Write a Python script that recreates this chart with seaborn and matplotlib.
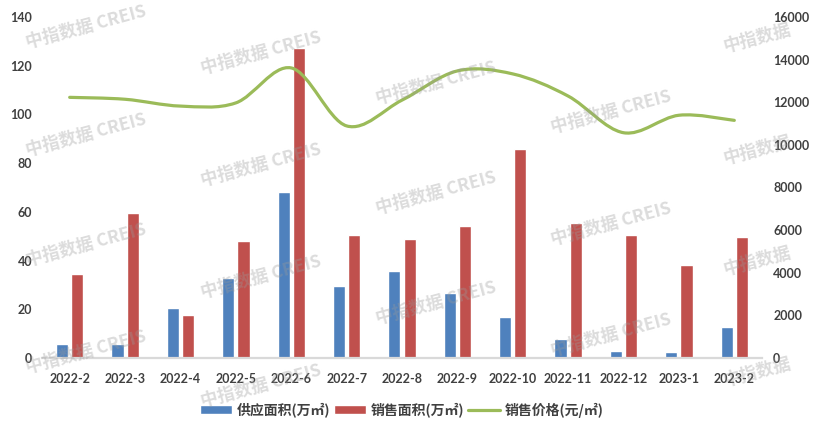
import numpy as np
import pandas as pd
import matplotlib
matplotlib.use("Agg")
import matplotlib.pyplot as plt
from matplotlib import font_manager
import seaborn as sns
from matplotlib.path import Path
from matplotlib.patches import PathPatch, Patch
from matplotlib.lines import Line2D

# ---- data ----
months = ["2022-2", "2022-3", "2022-4", "2022-5", "2022-6", "2022-7", "2022-8",
          "2022-9", "2022-10", "2022-11", "2022-12", "2023-1", "2023-2"]
supply = [5.8, 5.8, 20.6, 32.9, 68.3, 29.6, 35.8, 26.7, 16.9, 7.8, 2.9, 2.5, 12.8]
sales = [34.6, 59.7, 17.7, 48.1, 127.2, 50.6, 49.0, 54.3, 86.0, 55.6, 50.6, 38.3, 49.8]
price = [12230, 12140, 11820, 11970, 13610, 10890, 12100, 13470, 13330, 12290, 10570, 11390, 11150]
series_names = ["供应面积(万㎡)", "销售面积(万㎡)", "销售价格(元/㎡)"]
left_ticks = [0, 20, 40, 60, 80, 100, 120, 140]
right_ticks = [0, 2000, 4000, 6000, 8000, 10000, 12000, 14000, 16000]
watermark = "中指数据 CREIS"
watermark_short = "中指数据"

BLUE, RED, GREEN = "#4F81BD", "#C0504D", "#9BBB59"
TXT = "#404040"
AXC = "#D9D9D9"

sns.set_theme(style="white")

# pick a narrow font for tick labels if one is installed
tick_family, tick_size = "Lato", 9.0
try:
    p = font_manager.findfont(font_manager.FontProperties(family="Liberation Sans Narrow"),
                              fallback_to_default=False)
    if "Narrow" in p:
        tick_family, tick_size = "Liberation Sans Narrow", 10.5
except Exception:
    pass
plt.rcParams["font.family"] = [tick_family, "Noto Sans CJK SC", "DejaVu Sans"]

W, H = 817, 426
fig = plt.figure(figsize=(W / 100, H / 100), dpi=100)
ax = fig.add_axes([42 / W, 68 / H, 720 / W, 341 / H])

df = pd.DataFrame({
    "month": months * 2,
    "value": supply + sales,
    "series": [series_names[0]] * len(months) + [series_names[1]] * len(months),
})
sns.barplot(data=df, x="month", y="value", hue="series", palette=[BLUE, RED],
            width=0.55, gap=0.2, saturation=1, legend=False, ax=ax, zorder=2)

ax.set_xlim(-0.5, len(months) - 0.5)
ax.set_ylim(left_ticks[0], left_ticks[-1])
ax.set_yticks(left_ticks)
ax.set_xlabel("")
ax.set_ylabel("")
ax.grid(False)
for s in ["top", "right", "left"]:
    ax.spines[s].set_visible(False)
ax.spines["bottom"].set_color(AXC)
ax.spines["bottom"].set_linewidth(1.6)
ax.set_xticks(np.arange(-0.5, len(months), 1.0), minor=True)
ax.tick_params(axis="x", which="major", length=0, pad=11, labelsize=tick_size, labelcolor=TXT)
ax.tick_params(axis="x", which="minor", length=5, width=1.6, color=AXC, direction="out")
ax.tick_params(axis="y", length=0, pad=7, labelsize=tick_size, labelcolor=TXT)
for lab in ax.get_xticklabels() + ax.get_yticklabels():
    lab.set_fontweight("bold")

# price line (smoothed, secondary axis)
ax2 = ax.twinx()
ax2.set_ylim(right_ticks[0], right_ticks[-1])
ax2.set_yticks(right_ticks)
ax2.grid(False)
for s in ax2.spines.values():
    s.set_visible(False)
ax2.tick_params(axis="y", length=0, pad=8, labelsize=tick_size, labelcolor=TXT)
for lab in ax2.get_yticklabels():
    lab.set_fontweight("bold")

pts = np.column_stack([np.arange(len(price), dtype=float), np.asarray(price, dtype=float)])
n = len(pts)
verts = [pts[0]]
codes = [Path.MOVETO]
for i in range(n - 1):
    p0 = pts[i - 1] if i > 0 else pts[i]
    p1 = pts[i]
    p2 = pts[i + 1]
    p3 = pts[i + 2] if i + 2 < n else pts[i + 1]
    verts += [p1 + (p2 - p0) / 6.0, p2 - (p3 - p1) / 6.0, p2]
    codes += [Path.CURVE4] * 3
ax2.add_patch(PathPatch(Path(verts, codes), facecolor="none", edgecolor=GREEN,
                        lw=2.3, capstyle="round", joinstyle="round"))

# legend
handles = [Patch(facecolor=BLUE), Patch(facecolor=RED), Line2D([], [], color=GREEN, lw=2.3)]
fig.legend(handles, series_names, loc="center", bbox_to_anchor=(402 / W, 1 - 410 / H),
           ncol=3, frameon=False, handlelength=2.3, handleheight=0.6, handletextpad=0.35,
           columnspacing=0.25, labelcolor=TXT,
           prop={"family": ["Noto Sans CJK SC", "DejaVu Sans"], "size": 10, "weight": "bold"})

# watermarks
wm_full = [(86, 27), (86, 135), (86, 245), (86, 352),
           (261, 53), (261, 165), (261, 277), (261, 386),
           (436, 83), (436, 193), (436, 303),
           (611, 112), (611, 224), (611, 335)]
wm_short = [(757, 38), (757, 150), (757, 261), (757, 372)]
wm_kw = dict(rotation=15, ha="center", va="center", fontsize=12.5, fontweight="bold",
             color="#9a9a9a", alpha=0.35, family=["Noto Sans CJK SC", "DejaVu Sans"], zorder=10)
for x, y in wm_full:
    fig.text(x / W, 1 - y / H, watermark, **wm_kw)
for x, y in wm_short:
    fig.text(x / W, 1 - y / H, watermark_short, **wm_kw)

fig.savefig("out.png", dpi=100)
